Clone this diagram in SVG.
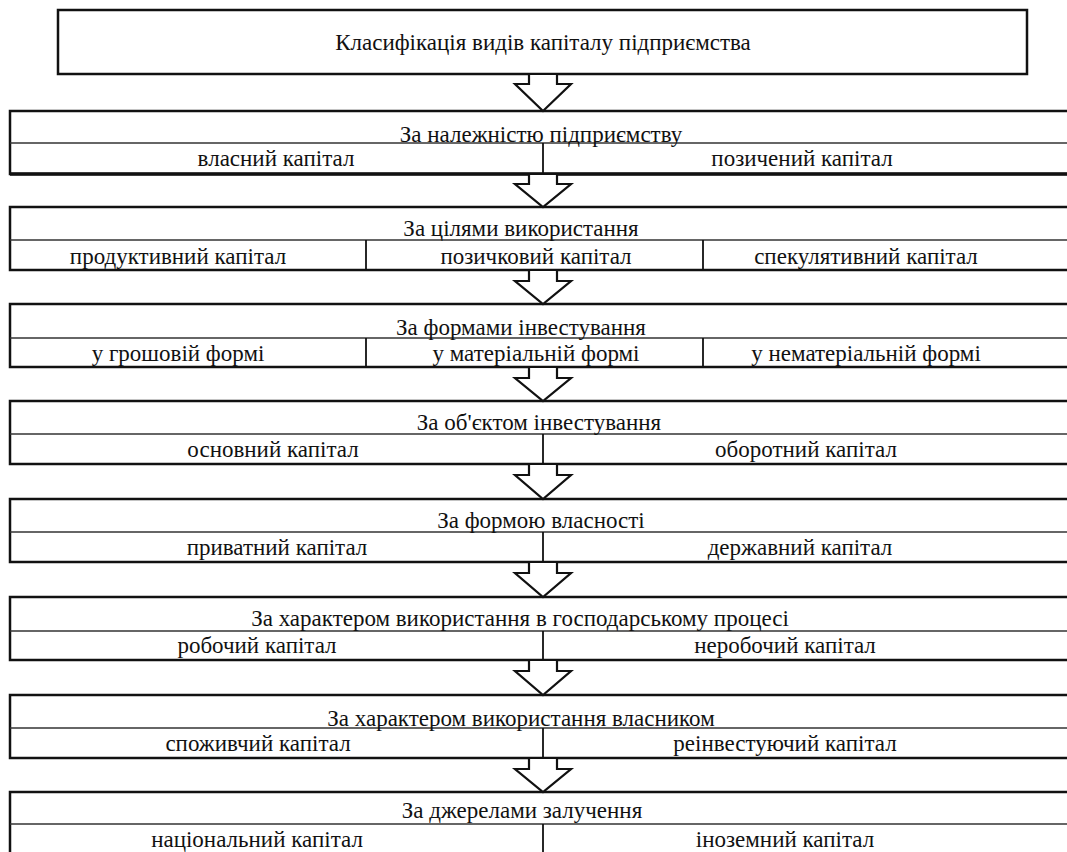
<svg xmlns="http://www.w3.org/2000/svg" width="1067" height="852" viewBox="0 0 1067 852">
<rect width="1067" height="852" fill="#fff"/>
<g id="title">
<rect x="58" y="10" width="969" height="64" fill="#fff" stroke="#111" stroke-width="2.5"/>
<text x="543" y="50" font-family="Liberation Serif" font-size="23" fill="#111" text-anchor="middle">Класифікація видів капіталу підприємства</text>
</g>
<g id="row1" fill="none" stroke="#111" stroke-width="2.5">
<path d="M1070,111 H10 V174 H1070"/>
<line x1="10" y1="174" x2="1067" y2="174" stroke-width="3.5"/>
<line x1="10" y1="143" x2="1067" y2="143" stroke="#333" stroke-width="1.6"/>
<line x1="543" y1="143" x2="543" y2="174" stroke-width="1.8"/>
<text x="541" y="142" font-family="Liberation Serif" font-size="23" fill="#111" stroke="none" text-anchor="middle">За належністю підприємству</text>
<text x="276" y="166" font-family="Liberation Serif" font-size="23" fill="#111" stroke="none" text-anchor="middle">власний капітал</text>
<text x="802" y="166" font-family="Liberation Serif" font-size="23" fill="#111" stroke="none" text-anchor="middle">позичений капітал</text>
</g>
<g id="row2" fill="none" stroke="#111" stroke-width="2.5">
<path d="M1070,207 H10 V270 H1070"/>
<line x1="10" y1="240" x2="1067" y2="240" stroke="#333" stroke-width="1.6"/>
<line x1="366" y1="240" x2="366" y2="270" stroke-width="1.8"/>
<line x1="703" y1="240" x2="703" y2="270" stroke-width="1.8"/>
<text x="521" y="236" font-family="Liberation Serif" font-size="23" fill="#111" stroke="none" text-anchor="middle">За цілями використання</text>
<text x="178" y="264" font-family="Liberation Serif" font-size="23" fill="#111" stroke="none" text-anchor="middle">продуктивний капітал</text>
<text x="536" y="264" font-family="Liberation Serif" font-size="23" fill="#111" stroke="none" text-anchor="middle">позичковий капітал</text>
<text x="866" y="264" font-family="Liberation Serif" font-size="23" fill="#111" stroke="none" text-anchor="middle">спекулятивний капітал</text>
</g>
<g id="row3" fill="none" stroke="#111" stroke-width="2.5">
<path d="M1070,304 H10 V367 H1070"/>
<line x1="10" y1="338" x2="1067" y2="338" stroke="#333" stroke-width="1.6"/>
<line x1="366" y1="338" x2="366" y2="367" stroke-width="1.8"/>
<line x1="703" y1="338" x2="703" y2="367" stroke-width="1.8"/>
<text x="521" y="335" font-family="Liberation Serif" font-size="23" fill="#111" stroke="none" text-anchor="middle">За формами інвестування</text>
<text x="178" y="361" font-family="Liberation Serif" font-size="23" fill="#111" stroke="none" text-anchor="middle">у грошовій формі</text>
<text x="536" y="361" font-family="Liberation Serif" font-size="23" fill="#111" stroke="none" text-anchor="middle">у матеріальній формі</text>
<text x="866" y="361" font-family="Liberation Serif" font-size="23" fill="#111" stroke="none" text-anchor="middle">у нематеріальній формі</text>
</g>
<g id="row4" fill="none" stroke="#111" stroke-width="2.5">
<path d="M1070,401 H10 V464 H1070"/>
<line x1="10" y1="434" x2="1067" y2="434" stroke="#333" stroke-width="1.6"/>
<line x1="543" y1="434" x2="543" y2="464" stroke-width="1.8"/>
<text x="539" y="430" font-family="Liberation Serif" font-size="23" fill="#111" stroke="none" text-anchor="middle">За об'єктом інвестування</text>
<text x="273" y="457" font-family="Liberation Serif" font-size="23" fill="#111" stroke="none" text-anchor="middle">основний капітал</text>
<text x="806" y="457" font-family="Liberation Serif" font-size="23" fill="#111" stroke="none" text-anchor="middle">оборотний капітал</text>
</g>
<g id="row5" fill="none" stroke="#111" stroke-width="2.5">
<path d="M1070,499 H10 V562 H1070"/>
<line x1="10" y1="532" x2="1067" y2="532" stroke="#333" stroke-width="1.6"/>
<line x1="543" y1="532" x2="543" y2="562" stroke-width="1.8"/>
<text x="541" y="528" font-family="Liberation Serif" font-size="23" fill="#111" stroke="none" text-anchor="middle">За формою власності</text>
<text x="277" y="555" font-family="Liberation Serif" font-size="23" fill="#111" stroke="none" text-anchor="middle">приватний капітал</text>
<text x="800" y="555" font-family="Liberation Serif" font-size="23" fill="#111" stroke="none" text-anchor="middle">державний капітал</text>
</g>
<g id="row6" fill="none" stroke="#111" stroke-width="2.5">
<path d="M1070,597 H10 V660 H1070"/>
<line x1="10" y1="631" x2="1067" y2="631" stroke="#333" stroke-width="1.6"/>
<line x1="543" y1="631" x2="543" y2="660" stroke-width="1.8"/>
<text x="520" y="626" font-family="Liberation Serif" font-size="23" fill="#111" stroke="none" text-anchor="middle">За характером використання в господарському процесі</text>
<text x="257" y="653" font-family="Liberation Serif" font-size="23" fill="#111" stroke="none" text-anchor="middle">робочий капітал</text>
<text x="785" y="653" font-family="Liberation Serif" font-size="23" fill="#111" stroke="none" text-anchor="middle">неробочий капітал</text>
</g>
<g id="row7" fill="none" stroke="#111" stroke-width="2.5">
<path d="M1070,695 H10 V758 H1070"/>
<line x1="10" y1="728" x2="1067" y2="728" stroke="#333" stroke-width="1.6"/>
<line x1="543" y1="728" x2="543" y2="758" stroke-width="1.8"/>
<text x="521" y="726" font-family="Liberation Serif" font-size="23" fill="#111" stroke="none" text-anchor="middle">За характером використання власником</text>
<text x="258" y="751" font-family="Liberation Serif" font-size="23" fill="#111" stroke="none" text-anchor="middle">споживчий капітал</text>
<text x="785" y="751" font-family="Liberation Serif" font-size="23" fill="#111" stroke="none" text-anchor="middle">реінвестуючий капітал</text>
</g>
<g id="row8" fill="none" stroke="#111" stroke-width="2.5">
<path d="M1070,792 H10 V860"/>
<line x1="10" y1="824" x2="1067" y2="824" stroke="#333" stroke-width="1.6"/>
<line x1="543" y1="824" x2="543" y2="852" stroke-width="1.8"/>
<text x="522" y="818" font-family="Liberation Serif" font-size="23" fill="#111" stroke="none" text-anchor="middle">За джерелами залучення</text>
<text x="257" y="847" font-family="Liberation Serif" font-size="23" fill="#111" stroke="none" text-anchor="middle">національний капітал</text>
<text x="785" y="847" font-family="Liberation Serif" font-size="23" fill="#111" stroke="none" text-anchor="middle">іноземний капітал</text>
</g>
<g id="connectors" fill="#fff" stroke="#111" stroke-width="2.2">
<path d="M529,75 V84 H515 L543,111 L571,84 H557 V75"/>
<path d="M529,175 V184 H515 L543,207 L571,184 H557 V175"/>
<path d="M529,271 V281 H515 L543,304 L571,281 H557 V271"/>
<path d="M529,368 V378 H515 L543,401 L571,378 H557 V368"/>
<path d="M529,465 V475 H515 L543,499 L571,475 H557 V465"/>
<path d="M529,563 V573 H515 L543,597 L571,573 H557 V563"/>
<path d="M529,661 V671 H515 L543,695 L571,671 H557 V661"/>
<path d="M529,759 V769 H515 L543,792 L571,769 H557 V759"/>
</g>
</svg>
